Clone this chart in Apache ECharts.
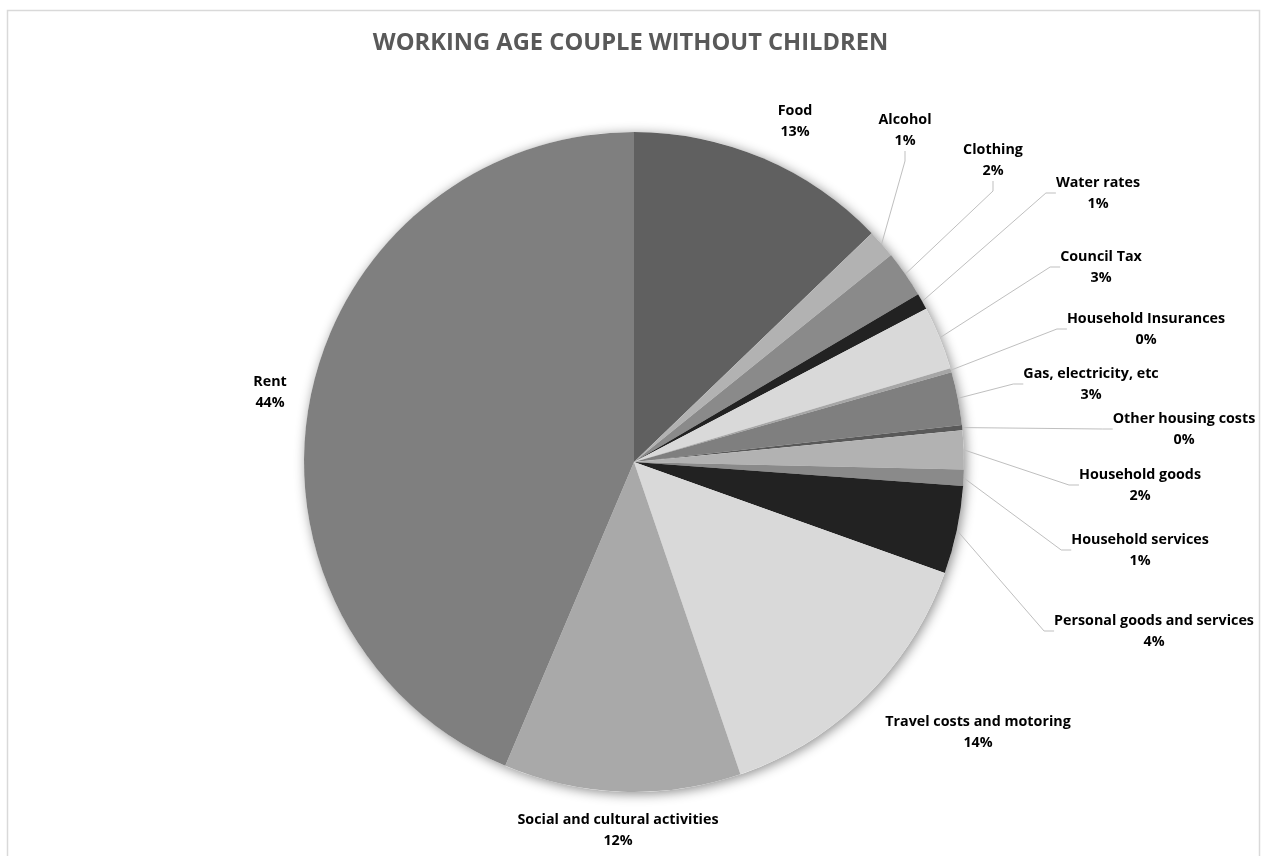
<!DOCTYPE html>
<html>
<head>
<meta charset="utf-8">
<script src="https://cdn.jsdelivr.net/npm/echarts@6/dist/echarts.min.js"></script>
<style>
html,body{margin:0;padding:0;background:#fff;}
#chart{width:1261px;height:856px;}
</style>
</head>
<body>
<div id="chart"></div>
<script>
// ---- data ----
const categories = ["Food","Alcohol","Clothing","Water rates","Council Tax","Household Insurances","Gas, electricity, etc","Other housing costs","Household goods","Household services","Personal goods and services","Travel costs and motoring","Social and cultural activities","Rent"];
const values = [12.8, 1.4, 2.3, 0.8, 3.1, 0.2, 2.6, 0.25, 1.9, 0.8, 4.3, 14.3, 11.6, 43.6];
const titleText = "WORKING AGE COUPLE WITHOUT CHILDREN";

// ---- styles ----
const colors = ["#606060","#b2b2b2","#8a8a8a","#222222","#d9d9d9","#a6a6a6","#7f7f7f","#595959","#b2b2b2","#8a8a8a","#222222","#d9d9d9","#a9a9a9","#7f7f7f"];
const labelPos = [[795,121],[905,130],[993,160],[1098,193],[1101,267],[1146,329],[1091,384],[1184,429],[1140,485],[1140,550],[1154,631],[978,732],[618,830],[270,392]];
const showLine = [false,true,true,true,true,true,true,true,true,true,true,false,false,false];

const total = values.reduce((a,b)=>a+b,0);
const chart = echarts.init(document.getElementById('chart'));
chart.setOption({
  animation:false,
  backgroundColor:'#fff',
  title:{text:titleText,left:'center',top:26,textStyle:{fontFamily:'Open Sans',fontWeight:'bold',fontSize:23.7,color:'#595959'}},
  graphic:[{type:'rect',shape:{x:7.5,y:10.5,width:1252,height:900},style:{fill:null,stroke:'#d9d9d9',lineWidth:1.5},silent:true,z:-10}],
  series:[
    {
      type:'pie',silent:true,center:[634,462],radius:330,z:1,
      itemStyle:{color:'#ffffff',shadowBlur:12,shadowColor:'rgba(0,0,0,0.45)',shadowOffsetX:2,shadowOffsetY:2},
      label:{show:false},labelLine:{show:false},
      data:[{value:1,name:'bg'}]
    },
    {
      type:'pie',center:[634,462],radius:330,startAngle:90,clockwise:true,z:2,
      avoidLabelOverlap:false,
      itemStyle:{borderWidth:0},
      label:{
        show:true,position:'outside',fontFamily:'Open Sans',fontWeight:'bold',fontSize:14.3,color:'#000',lineHeight:21,align:'center',
        formatter:p=>p.name+'\n'+Math.round(p.value/total*100)+'%'
      },
      labelLine:{show:true,length:10,length2:10,lineStyle:{color:'#bfbfbf',width:1}},
      labelLayout:function(params){
        const pos = labelPos[params.dataIndex];
        return {x:pos[0],y:pos[1],align:'center',verticalAlign:'middle',hideOverlap:false};
      },
      data:categories.map((c,i)=>({name:c,value:values[i],itemStyle:{color:colors[i]},labelLine:{show:showLine[i]}}))
    }
  ]
});
</script>
</body>
</html>
